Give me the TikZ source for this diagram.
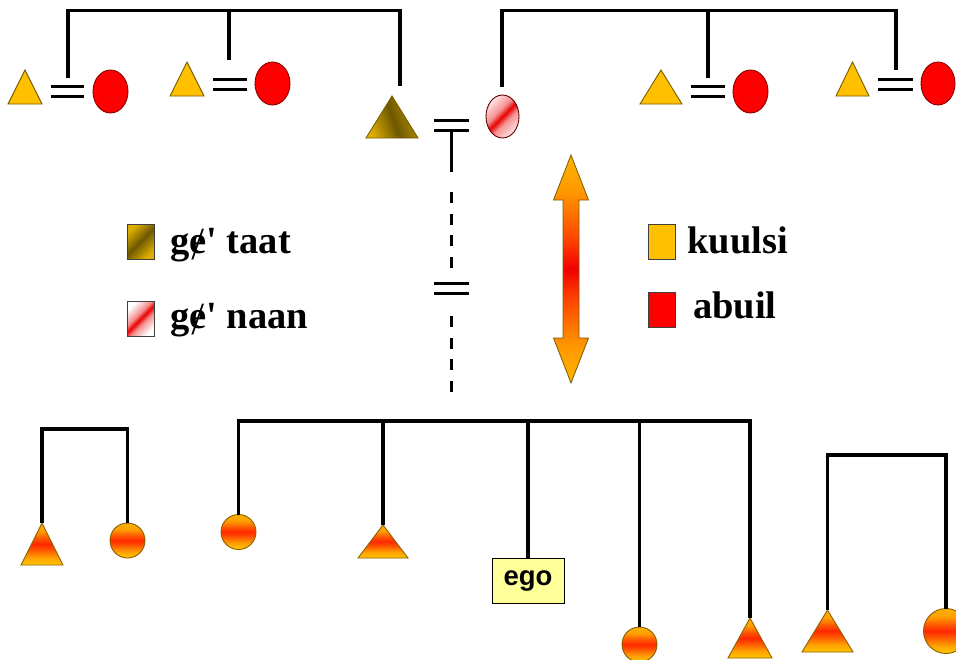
\documentclass[tikz,border=0pt]{standalone}
\usepackage{fontspec}
\usetikzlibrary{shapes.geometric}
\newfontfamily\legfont{Liberation Serif}[Ligatures=TeXOff]
\newfontfamily\egofont{Liberation Sans}
\newfontfamily\dvserif{DejaVu Serif}[Ligatures=TeXOff]
\definecolor{gold}{HTML}{FFC000}
\definecolor{goldedge}{HTML}{7A5C00}
\definecolor{redfill}{HTML}{FF0000}
\definecolor{rededge}{HTML}{8A0000}
\definecolor{flameedge}{HTML}{8C6000}
\definecolor{egofill}{HTML}{FFFF99}
\definecolor{legedge}{HTML}{404040}
\definecolor{flY}{HTML}{FFC800}
\definecolor{flT}{HTML}{F8B000}
\definecolor{flO}{HTML}{FFA000}
\definecolor{flM}{HTML}{FF5000}
\definecolor{flR}{HTML}{FF2800}
\definecolor{arY}{HTML}{FFB400}
\definecolor{arO}{HTML}{FF9800}
\definecolor{arM}{HTML}{FF4800}
\definecolor{arR}{HTML}{F00000}
\definecolor{bA}{HTML}{DDAE00}
\definecolor{bB}{HTML}{6E5800}
\definecolor{bC}{HTML}{B89400}
\definecolor{pkL}{HTML}{FFE4E4}
\definecolor{pkM}{HTML}{F49090}
\definecolor{pkR}{HTML}{E80000}
\pgfdeclareverticalshading{flame}{100bp}{color(0bp)=(flY); color(25bp)=(flY); color(34bp)=(flO); color(44bp)=(flM); color(50bp)=(flR); color(56bp)=(flM); color(66bp)=(flO); color(75bp)=(flT); color(100bp)=(flT)}
\pgfdeclareverticalshading{arrowsh}{100bp}{color(0bp)=(arY); color(25bp)=(arY); color(33bp)=(arO); color(43bp)=(arM); color(50bp)=(arR); color(57bp)=(arM); color(67bp)=(arO); color(75bp)=(arY); color(100bp)=(arY)}
\pgfdeclarehorizontalshading{brownsh}{100bp}{color(0bp)=(bA); color(25bp)=(bA); color(50bp)=(bB); color(75bp)=(bC); color(100bp)=(bC)}
\pgfdeclarehorizontalshading{pinksh}{100bp}{color(0bp)=(pkL); color(25bp)=(pkL); color(42bp)=(pkM); color(50bp)=(pkR); color(58bp)=(pkM); color(75bp)=(pkL); color(100bp)=(pkL)}
\pgfdeclarehorizontalshading{pinkboxsh}{100bp}{color(0bp)=(white); color(25bp)=(white); color(42bp)=(pkM); color(50bp)=(pkR); color(58bp)=(pkM); color(75bp)=(white); color(100bp)=(white)}
\pgfdeclarehorizontalshading{brownboxsh}{100bp}{color(0bp)=(bA); color(25bp)=(bA); color(50bp)=(bB); color(75bp)=(bA); color(100bp)=(bA)}
\newcommand\estroke{\iffontchar\font"0247 \symbol{"0247}\else{\dvserif\bfseries\symbol{"0247}}\fi}
% name, apex x, apex y, half base, height, style
\newcommand\persontri[6]{\path[#6] ({#2-#4},{#3+#5}) -- (#2,#3) -- ({#2+#4},{#3+#5}) -- cycle; \coordinate (#1) at (#2,#3);}
% x1, x2, upper y
\newcommand\eqsign[3]{\draw[eqline] (#1,#3) -- (#2,#3); \draw[eqline] (#1,{#3+10}) -- (#2,{#3+10});}
\begin{document}
\begin{tikzpicture}[x=1pt,y=-1pt,
  kin/.style={line width=3.3pt, black},
  eqline/.style={line width=3pt, black},
  dashline/.style={line width=3.6pt, black, dash pattern=on 11pt off 10.7pt},
  goldtri/.style={fill=gold, draw=goldedge, line width=0.9pt},
  redell/.style={ellipse, fill=redfill, draw=rededge, line width=0.9pt, minimum width=35pt, minimum height=43pt, inner sep=0pt, outer sep=0pt},
  flametri/.style={shade, shading=flame, draw=flameedge, line width=0.9pt},
  flamecirc/.style={circle, shade, shading=flame, draw=flameedge, line width=0.9pt, minimum size=35pt, inner sep=0pt, outer sep=0pt},
  legbox/.style={rectangle, draw=legedge, line width=0.8pt, minimum width=27pt, minimum height=35pt, inner sep=0pt},
  legtext/.style={font=\legfont\bfseries\fontsize{38.5}{40}\selectfont, inner sep=0pt, anchor=base west},
]
\fill[white] (0,0) rectangle (956,659);
\useasboundingbox (0,0) rectangle (956,659);
\coordinate (topbar) at (0,10.5);
% ---------- top left family ----------
\coordinate (a1) at (68,78);
\coordinate (a2) at (229,60);
\coordinate (a3) at (400,86);
\draw[kin] (a1) -- (a1 |- topbar) -- (a3 |- topbar) -- (a3);
\draw[kin] (a2 |- topbar) -- (a2);
\persontri{T1}{25}{70}{17}{34}{goldtri}
\eqsign{51}{84}{86.5}
\node[redell] (E1) at (110.5,91.5) {};
\persontri{T2}{187}{62}{17}{34}{goldtri}
\eqsign{213}{247}{79}
\node[redell] (E2) at (272.5,83.5) {};
\persontri{TB}{392}{96}{26}{42}{shade, shading=brownsh, shading angle=20, draw=goldedge, line width=0.9pt}
% ---------- top right family ----------
\coordinate (b1) at (502,87);
\coordinate (b2) at (708,78);
\coordinate (b3) at (896,70);
\draw[kin] (b1) -- (b1 |- topbar) -- (b3 |- topbar) -- (b3);
\draw[kin] (b2 |- topbar) -- (b2);
\node[ellipse, shade, shading=pinksh, shading angle=-45, draw=rededge!70!black, line width=0.9pt, minimum width=33pt, minimum height=43pt, inner sep=0pt] (P) at (502.5,116.5) {};
\persontri{T3}{661}{70}{21}{34}{goldtri}
\eqsign{691}{725}{86.5}
\node[redell] (E3) at (750.5,91.5) {};
\persontri{T4}{852.5}{62}{16.5}{34}{goldtri}
\eqsign{878}{913}{79}
\node[redell, minimum width=34pt] (E4) at (938,83.5) {};
% ---------- descent line ----------
\eqsign{434}{469}{120.5}
\coordinate (dB) at (451.5,130.5);
\coordinate (dS) at (451.5,172);
\draw[kin] (dB) -- (dS);
\coordinate (d1) at (451.5,192);
\coordinate (d2) at (451.5,267.5);
\draw[dashline] (d1) -- (d2);
\eqsign{434}{469}{283.5}
\coordinate (d3) at (451.5,316);
\coordinate (d4) at (451.5,392);
\draw[dashline] (d3) -- (d4);
% ---------- legend ----------
\node[legbox, shade, shading=brownboxsh, shading angle=-45] (LB1) at (140.5,241.5) {};
\node[legtext] (LT1) at (170,253) {g\estroke' taat};
\node[legbox, shade, shading=pinkboxsh, shading angle=-45] (LB2) at (140.5,319) {};
\node[legtext] (LT2) at (170,328) {g\estroke' naan};
\node[legbox, fill=gold] (LY) at (661.5,242) {};
\node[legtext] (LTY) at (687,253) {kuulsi};
\node[legbox, fill=redfill] (LR) at (661.5,310) {};
\node[legtext] (LTR) at (693,318) {abuil};
\path[shade, shading=arrowsh, draw=goldedge, line width=0.8pt]
  (571,155) -- (588.5,200) -- (579,200) -- (579,338) -- (588.5,338) -- (571,383)
  -- (553.5,338) -- (563,338) -- (563,200) -- (553.5,200) -- cycle;
% ---------- bottom left pair ----------
\persontri{BT1}{42}{523}{21}{42}{flametri}
\node[flamecirc] (BC1) at (127.5,540.5) {};
\draw[kin] (BT1) -- (BT1 |- 0,429) -- (BC1.north |- 0,429) -- (BC1.north);
% ---------- bottom middle sibling group ----------
\node[flamecirc] (BC2) at (238.5,532) {};
\persontri{BT2}{383}{525}{25}{33}{flametri}
\node[draw=black, line width=0.9pt, fill=egofill, minimum width=72pt, minimum height=45pt, inner sep=0pt, font=\egofont\bfseries\fontsize{27.5}{30}\selectfont] (ego) at (528,580.5) {ego};
\node[flamecirc] (BC3) at (639.5,644.5) {};
\persontri{BT3}{750}{618}{22}{40}{flametri}
\coordinate (midbar) at (0,421);
\draw[kin] (BC2.north) -- (BC2.north |- midbar) -- (BT3 |- midbar) -- (BT3);
\draw[kin] (BT2 |- midbar) -- (BT2);
\draw[kin] (ego.north |- midbar) -- (ego.north);
\draw[kin] (BC3.north |- midbar) -- (BC3.north);
% ---------- bottom right pair ----------
\persontri{BT4}{827.5}{610}{25.5}{42}{flametri}
\node[flamecirc, minimum size=45pt] (BC4) at (946,631) {};
\draw[kin] (BT4) -- (BT4 |- 0,455) -- (BC4.north |- 0,455) -- (BC4.north);
\end{tikzpicture}
\end{document}
